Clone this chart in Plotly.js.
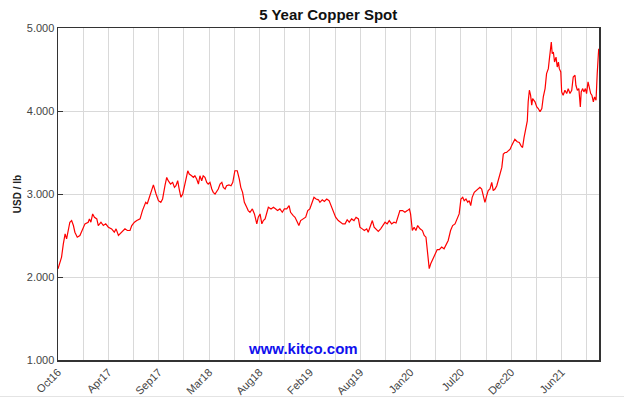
<!DOCTYPE html>
<html>
<head>
<meta charset="utf-8">
<script src="https://cdn.plot.ly/plotly-3.0.1.min.js"></script>
<style>html,body{margin:0;padding:0;background:#fff;}#chart{width:624px;height:398px;}</style>
</head>
<body>
<div id="chart"></div>
<script>
const dates = [
"2016-10-19","2016-10-31","2016-11-06","2016-11-12","2016-11-17","2016-11-28","2016-12-04","2016-12-10","2016-12-15","2016-12-23",
"2017-01-01","2017-01-12","2017-01-18","2017-01-29","2017-02-02","2017-02-07","2017-02-13","2017-02-19","2017-02-27","2017-03-04",
"2017-03-13","2017-03-21","2017-03-29","2017-04-07","2017-04-18","2017-04-27","2017-05-03","2017-05-11","2017-05-16","2017-05-25",
"2017-06-02","2017-06-10","2017-06-19","2017-06-25","2017-07-04","2017-07-12","2017-07-23","2017-07-31","2017-08-05","2017-08-11",
"2017-08-16","2017-08-23","2017-08-31","2017-09-06","2017-09-15","2017-09-23","2017-10-01","2017-10-07","2017-10-15","2017-10-21",
"2017-10-26","2017-11-03","2017-11-10","2017-11-16","2017-11-21","2017-11-27","2017-12-02","2017-12-08","2017-12-14","2017-12-19",
"2017-12-25","2017-12-31","2018-01-05","2018-01-13","2018-01-19","2018-01-24","2018-01-30","2018-02-05","2018-02-10","2018-02-16",
"2018-02-21","2018-02-27","2018-03-05","2018-03-10","2018-03-16","2018-03-22","2018-03-27","2018-04-02","2018-04-08","2018-04-13",
"2018-04-19","2018-04-25","2018-04-30","2018-05-06","2018-05-11","2018-05-19","2018-05-26","2018-06-01","2018-06-08","2018-06-16",
"2018-06-23","2018-06-28","2018-07-04","2018-07-10","2018-07-18","2018-07-23","2018-07-29","2018-08-06","2018-08-13","2018-08-21",
"2018-08-26","2018-09-01","2018-09-07","2018-09-12","2018-09-18","2018-09-23","2018-09-29","2018-10-08","2018-10-16","2018-10-24",
"2018-10-30","2018-11-07","2018-11-15","2018-11-22","2018-11-30","2018-12-08","2018-12-13","2018-12-22","2018-12-28","2019-01-05",
"2019-01-10","2019-01-16","2019-01-25","2019-02-02","2019-02-09","2019-02-16","2019-02-24","2019-03-02","2019-03-09","2019-03-17",
"2019-03-22","2019-03-30","2019-04-06","2019-04-14","2019-04-22","2019-04-28","2019-05-06","2019-05-14","2019-05-23","2019-05-29",
"2019-06-07","2019-06-15","2019-06-22","2019-06-29","2019-07-07","2019-07-15","2019-07-22","2019-07-30","2019-08-04","2019-08-12",
"2019-08-19","2019-08-27","2019-09-01","2019-09-09","2019-09-15","2019-09-21","2019-09-27","2019-10-05","2019-10-13","2019-10-20",
"2019-10-28","2019-11-04","2019-11-11","2019-11-19","2019-11-27","2019-12-04","2019-12-12","2019-12-17","2019-12-26","2020-01-03",
"2020-01-11","2020-01-18","2020-01-22","2020-01-28","2020-02-03","2020-02-09","2020-02-15","2020-02-23","2020-03-02","2020-03-08",
"2020-03-14","2020-03-18","2020-03-22","2020-03-25","2020-03-30","2020-04-06","2020-04-13","2020-04-21","2020-04-28","2020-05-06",
"2020-05-14","2020-05-21","2020-05-28","2020-06-05","2020-06-12","2020-06-20","2020-06-28","2020-07-04","2020-07-10","2020-07-16",
"2020-07-21","2020-07-27","2020-08-02","2020-08-07","2020-08-12","2020-08-17","2020-08-24","2020-08-30","2020-09-05","2020-09-12",
"2020-09-18","2020-09-23","2020-09-29","2020-10-05","2020-10-10","2020-10-16","2020-10-22","2020-10-27","2020-11-02","2020-11-08",
"2020-11-13","2020-11-19","2020-11-25","2020-11-30","2020-12-06","2020-12-11","2020-12-17","2020-12-23","2020-12-28","2021-01-03",
"2021-01-08","2021-01-16","2021-01-23","2021-01-29","2021-02-03","2021-02-08","2021-02-14","2021-02-19","2021-02-22","2021-02-26",
"2021-03-02","2021-03-06","2021-03-09","2021-03-14","2021-03-17","2021-03-23","2021-03-28","2021-04-03","2021-04-09","2021-04-14",
"2021-04-20","2021-04-25","2021-05-01","2021-05-04","2021-05-09","2021-05-11","2021-05-14","2021-05-18","2021-05-22","2021-05-27",
"2021-05-31","2021-06-04","2021-06-07","2021-06-12","2021-06-15","2021-06-20","2021-06-26","2021-07-02","2021-07-07","2021-07-13",
"2021-07-19","2021-07-24","2021-07-30","2021-08-02","2021-08-07","2021-08-12","2021-08-17","2021-08-20","2021-08-25","2021-08-29",
"2021-09-03","2021-09-07","2021-09-12","2021-09-16","2021-09-21","2021-09-25","2021-09-30","2021-10-04","2021-10-09","2021-10-13",
"2021-10-16","2021-10-18"
];
const prices = [
2.10,2.24,2.40,2.52,2.46,2.66,2.68,2.62,2.54,2.48,
2.50,2.58,2.64,2.66,2.70,2.66,2.76,2.72,2.70,2.62,
2.66,2.62,2.64,2.60,2.58,2.54,2.58,2.50,2.52,2.56,
2.58,2.56,2.56,2.62,2.66,2.68,2.70,2.80,2.84,2.90,
2.88,2.96,3.06,3.11,3.00,2.92,2.90,2.94,3.10,3.20,
3.16,3.12,3.14,3.08,3.10,3.16,3.06,2.96,3.00,3.10,
3.18,3.28,3.24,3.22,3.20,3.22,3.18,3.12,3.22,3.16,
3.22,3.20,3.14,3.12,3.14,3.06,3.02,3.00,3.04,3.06,
3.12,3.14,3.08,3.06,3.10,3.11,3.10,3.14,3.28,3.28,
3.18,3.08,3.02,2.90,2.84,2.80,2.78,2.82,2.76,2.64,
2.72,2.76,2.64,2.68,2.70,2.76,2.84,2.82,2.84,2.82,
2.80,2.82,2.78,2.82,2.82,2.86,2.78,2.74,2.72,2.66,
2.62,2.68,2.70,2.72,2.80,2.82,2.90,2.96,2.94,2.93,
2.90,2.93,2.91,2.94,2.92,2.86,2.78,2.72,2.68,2.66,
2.64,2.64,2.69,2.66,2.70,2.68,2.72,2.70,2.60,2.58,
2.56,2.58,2.54,2.62,2.68,2.60,2.58,2.55,2.58,2.62,
2.66,2.64,2.68,2.64,2.66,2.65,2.76,2.80,2.80,2.78,
2.80,2.82,2.76,2.56,2.60,2.56,2.62,2.58,2.56,2.50,
2.48,2.34,2.16,2.10,2.16,2.22,2.27,2.33,2.33,2.36,
2.34,2.40,2.44,2.56,2.62,2.64,2.70,2.76,2.94,2.96,
2.92,2.94,2.90,2.92,2.86,2.96,3.02,3.04,3.06,3.08,
3.06,2.98,2.90,2.98,3.04,3.06,3.14,3.04,3.06,3.10,
3.16,3.22,3.32,3.48,3.50,3.50,3.52,3.54,3.58,3.62,
3.66,3.63,3.62,3.58,3.56,3.68,3.78,3.88,4.11,4.25,
4.19,4.07,4.15,4.13,4.11,4.05,4.03,3.99,4.03,4.17,
4.27,4.45,4.51,4.61,4.73,4.83,4.69,4.71,4.59,4.65,
4.53,4.59,4.51,4.47,4.23,4.19,4.25,4.21,4.27,4.21,
4.25,4.41,4.43,4.31,4.25,4.27,4.05,4.23,4.27,4.23,
4.27,4.21,4.35,4.29,4.21,4.19,4.11,4.17,4.13,4.45,
4.65,4.75
];
const tickDates = [
"2016-10-19","2017-01-12","2017-04-07","2017-07-01","2017-09-24","2017-12-18","2018-03-13","2018-06-06",
"2018-08-30","2018-11-23","2019-02-16","2019-05-12","2019-08-05","2019-10-29","2020-01-22","2020-04-16",
"2020-07-10","2020-10-03","2020-12-27","2021-03-22","2021-06-15","2021-09-08"
];
const tickLabels = [
"Oct16","","Apr17","","Sep17","","Mar18","","Aug18","","Feb19","","Aug19","","Jan20","",
"Jul20","","Dec20","","Jun21",""
];
const yTicks = [1, 2, 3, 4, 5];
const yLabels = ["1.000","2.000","3.000","4.000","5.000"];

const trace = {
  x: dates, y: prices, type: "scatter", mode: "lines",
  line: {color: "#ff0000", width: 1.2}, hoverinfo: "x+y"
};
const font = "Liberation Sans, Arial, sans-serif";
const layout = {
  width: 624, height: 398,
  margin: {l: 58, r: 25, t: 28, b: 38},
  paper_bgcolor: "#ffffff", plot_bgcolor: "#ffffff",
  showlegend: false,
  font: {family: font, size: 11, color: "#333333"},
  title: {text: "<b>5 Year Copper Spot</b>", font: {family: font, size: 15, color: "#111111"},
          x: 0.526, xanchor: "center", y: 0.962, yanchor: "middle"},
  xaxis: {
    type: "date", range: ["2016-10-19", "2021-10-19"],
    tickmode: "array", tickvals: tickDates, ticktext: tickLabels,
    tickangle: -45, ticks: "", showgrid: true, gridcolor: "#d9d9d9", gridwidth: 1,
    showline: true, linecolor: "#333333", linewidth: 1.5, mirror: true,
    tickfont: {family: font, size: 11, color: "#444444"}, zeroline: false
  },
  yaxis: {
    range: [1, 5], tickmode: "array", tickvals: yTicks, ticktext: yLabels,
    ticks: "inside", ticklen: 5, tickcolor: "#333333",
    showgrid: true, gridcolor: "#d9d9d9", gridwidth: 1,
    showline: true, linecolor: "#333333", linewidth: 1.5, mirror: true,
    tickfont: {family: font, size: 11, color: "#444444"}, zeroline: false,
    title: {text: "<b>USD / lb</b>", font: {family: font, size: 10, color: "#222222"}, standoff: 3}
  },
  annotations: [{
    text: "<b>www.kitco.com</b>", xref: "paper", yref: "paper", x: 0.452, y: 0.035,
    xanchor: "center", yanchor: "middle", showarrow: false,
    font: {family: font, size: 15, color: "#1010ee"}
  }],
  shapes: [{
    type: "line", xref: "paper", yref: "paper", x0: -0.11, x1: 1.05, y0: -0.11, y1: -0.11,
    line: {color: "#e4e4e4", width: 1}
  }]
};
Plotly.newPlot("chart", [trace], layout, {staticPlot: true, displayModeBar: false});
</script>
</body>
</html>
